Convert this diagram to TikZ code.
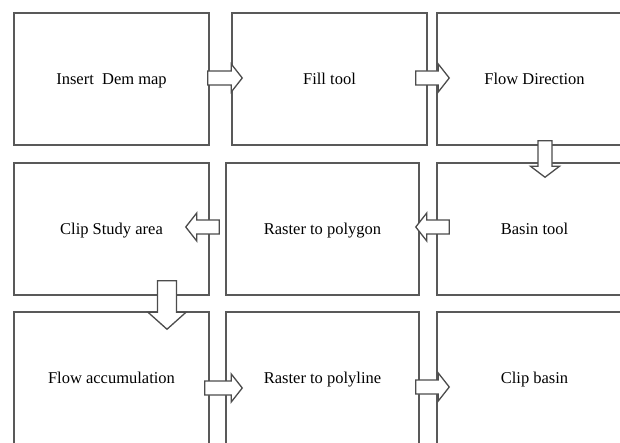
\documentclass[tikz,border=0pt]{standalone}
\usepackage{fontspec}
\setmainfont{Liberation Serif}
\usetikzlibrary{calc}
\tikzset{
  stepbox/.style={draw=black!65, line width=1.5pt, fill=white, rectangle,
    minimum width=195pt, minimum height=132pt, inner sep=0pt,
    text height=15pt, text depth=3.5pt,
    font=\fontsize{16.5}{19}\selectfont},
  blockarrow/.style={draw=black!70, line width=1.3pt, fill=white, line join=miter},
}
% #1 tail, #2 tip, #3 shaft half width, #4 head half width, #5 head length
\newcommand\myblockarrow[5]{%
  \coordinate (hb) at ($(#2)!#5!(#1)$);
  \draw[blockarrow] ($(#1)!#3!90:(#2)$) -- ($(hb)!#3!-90:(#1)$) -- ($(hb)!#4!-90:(#1)$)
    -- (#2) -- ($(hb)!#4!90:(#1)$) -- ($(hb)!#3!90:(#1)$) -- ($(#1)!#3!-90:(#2)$) -- cycle;
}
\begin{document}
\begin{tikzpicture}[x=1pt,y=-1pt]
\clip (0,0) rectangle (620,443);
\fill[white] (0,0) rectangle (620,443);
% row 1
\node[stepbox] (b1) at (111.5,79) {Insert\ \ Dem map};
\node[stepbox] (b2) at (329.5,79) {Fill tool};
\node[stepbox] (b3) at (534.5,79) {Flow Direction};
% row 2
\node[stepbox] (b4) at (111.5,229) {Clip Study area};
\node[stepbox, minimum width=193pt] (b5) at (322.5,229) {Raster to polygon};
\node[stepbox] (b6) at (534.5,229) {Basin tool};
% row 3
\node[stepbox] (b7) at (111.5,378) {Flow accumulation};
\node[stepbox, minimum width=193pt] (b8) at (322.5,378) {Raster to polyline};
\node[stepbox] (b9) at (534.5,378) {Clip basin};
% connector end points
\coordinate (a1t) at ($(b1.east)+(-2,-1)$);  \coordinate (a1h) at ($(b2.west)+(11,-1)$);
\coordinate (a2t) at ($(b2.east)+(-12,-1)$); \coordinate (a2h) at ($(b3.west)+(13,-1)$);
\coordinate (a3t) at ($(b3.south)+(10.5,-5)$); \coordinate (a3h) at ($(b6.north)+(10.5,15)$);
\coordinate (a4t) at ($(b6.west)+(13,-2)$);  \coordinate (a4h) at ($(b5.east)+(-4,-2)$);
\coordinate (a5t) at ($(b5.west)+(-6,-2)$);  \coordinate (a5h) at ($(b4.east)+(-24,-2)$);
\coordinate (a6t) at ($(b4.south)+(55.5,-15)$); \coordinate (a6h) at ($(b7.north)+(55.5,18)$);
\coordinate (a7t) at ($(b7.east)+(-5,10)$);  \coordinate (a7h) at ($(b8.west)+(17,10)$);
\coordinate (a8t) at ($(b8.east)+(-4,9)$);   \coordinate (a8h) at ($(b9.west)+(13,9)$);
% connectors (block arrows)
\myblockarrow{a1t}{a1h}{7pt}{14pt}{11pt}
\myblockarrow{a2t}{a2h}{7pt}{14pt}{11pt}
\myblockarrow{a3t}{a3h}{7pt}{14.5pt}{11pt}
\myblockarrow{a4t}{a4h}{7pt}{14pt}{11pt}
\myblockarrow{a5t}{a5h}{7pt}{14pt}{11pt}
\myblockarrow{a6t}{a6h}{9.5pt}{19pt}{17pt}
\myblockarrow{a7t}{a7h}{7pt}{14pt}{11pt}
\myblockarrow{a8t}{a8h}{7pt}{14pt}{11pt}
\end{tikzpicture}
\end{document}
